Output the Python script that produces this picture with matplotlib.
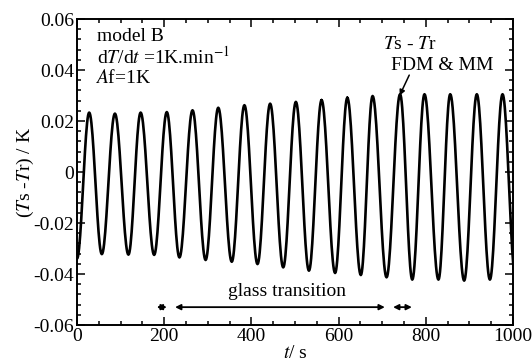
import numpy as np
import matplotlib
matplotlib.use('Agg')
import matplotlib.pyplot as plt
from matplotlib.ticker import MultipleLocator

plt.rcParams['font.family'] = ['Liberation Serif', 'DejaVu Serif']
plt.rcParams['mathtext.fontset'] = 'stix'

# extrema of the Ts - Tr oscillation (t in s, value in K)
trough_t = [0, 57, 118, 177, 235, 295, 355, 414, 473, 532, 592, 651, 710, 769, 829, 888, 947, 1006]
trough_v = [-0.0340, -0.0322, -0.0324, -0.0325, -0.0335, -0.0345, -0.0352, -0.0361, -0.0374,
            -0.0387, -0.0396, -0.0404, -0.0413, -0.0422, -0.0422, -0.0426, -0.0422, -0.0420]
peak_t = [28, 87, 146, 206, 265, 324, 384, 443, 502, 561, 620, 678, 741, 797, 856, 917, 976]
peak_v = [0.0233, 0.0229, 0.0233, 0.0235, 0.0242, 0.0252, 0.0262, 0.0268, 0.0275,
          0.0282, 0.0291, 0.0298, 0.0305, 0.0305, 0.0305, 0.0305, 0.0305]

xticks = [0, 200, 400, 600, 800, 1000]
yticks = [-0.06, -0.04, -0.02, 0, 0.02, 0.04, 0.06]
ytick_labels = ['-0.06', '-0.04', '-0.02', '0', '0.02', '0.04', '0.06']

# interleave extrema and join them with half-cosine segments
ext_t, ext_v = [], []
for i in range(len(trough_t)):
    ext_t.append(trough_t[i]); ext_v.append(trough_v[i])
    if i < len(peak_t):
        ext_t.append(peak_t[i]); ext_v.append(peak_v[i])
curve_t, curve_v = [], []
for (t0, v0), (t1, v1) in zip(zip(ext_t[:-1], ext_v[:-1]), zip(ext_t[1:], ext_v[1:])):
    s = np.linspace(0, 1, 24)
    curve_t.extend(t0 + (t1 - t0) * s)
    curve_v.extend(v0 + (v1 - v0) * (1 - np.cos(np.pi * s)) / 2)

fig = plt.figure(figsize=(5.32, 3.62), dpi=100)
ax = fig.add_axes([0.1447, 0.1022, 0.8196, 0.8453])
ax.plot(curve_t, curve_v, color='black', lw=1.9, clip_on=True)

ax.set_xlim(0, 1000)
ax.set_ylim(-0.06, 0.06)
ax.set_xticks(xticks)
ax.set_yticks(yticks)
ax.set_yticklabels(ytick_labels)
ax.xaxis.set_minor_locator(MultipleLocator(50))
ax.yaxis.set_minor_locator(MultipleLocator(0.004))
ax.tick_params(which='both', direction='in', top=True, right=True, width=1.1, labelsize=14, pad=2)
ax.tick_params(which='major', length=6)
ax.tick_params(which='minor', length=3)
for sp in ax.spines.values():
    sp.set_linewidth(1.4)

ax.set_xlabel(r'$t$/ s', fontsize=14, labelpad=0)
ax.set_ylabel(r'($T$s -$T$r) / K', fontsize=14, labelpad=-2)

ax.text(46, 0.0514, 'model B', fontsize=14)
ax.text(46, 0.0427, r'd$T$/d$t$ =1K.min$^{-1}$', fontsize=14)
ax.text(42, 0.0349, r'$A$f=1K', fontsize=14)

ax.text(702, 0.0482, r'$T$s - $T$r', fontsize=14)
ax.text(720, 0.0400, 'FDM & MM', fontsize=14)
ax.annotate('', xy=(740, 0.0300), xytext=(762, 0.0380),
            arrowprops=dict(arrowstyle='-|>', color='black', lw=1.1,
                            shrinkA=0, shrinkB=0, mutation_scale=8))

arrow_y = -0.0530
for a, b in [(183, 206), (225, 706), (725, 768)]:
    ax.annotate('', xy=(a, arrow_y), xytext=(b, arrow_y),
                arrowprops=dict(arrowstyle='<|-|>', color='black', lw=1.3,
                                shrinkA=0, shrinkB=0, mutation_scale=8))
ax.text(482, -0.0485, 'glass transition', fontsize=14, ha='center')

fig.savefig('out.png', dpi=100)
